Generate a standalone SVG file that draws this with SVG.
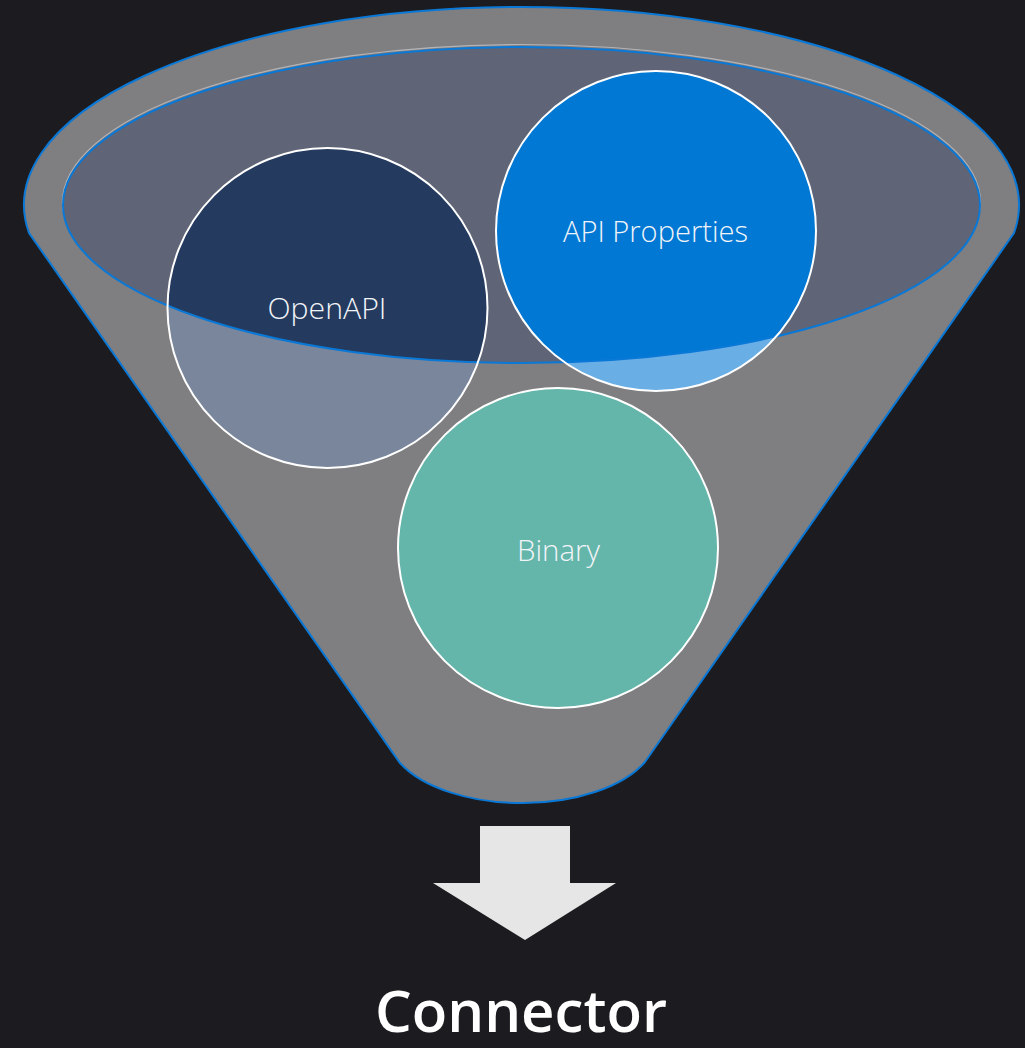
<svg xmlns="http://www.w3.org/2000/svg" width="1025" height="1048" viewBox="0 0 1025 1048">
  <style>
    .lbl { font-family: "Open Sans", "Segoe UI", "Liberation Sans", sans-serif; font-weight: 300; font-size: 30px; fill: #f2f4f8; text-anchor: middle; }
    .ring { fill: none; stroke: #ffffff; stroke-width: 2; }
    .blue { stroke: #0a78d6; stroke-width: 2; }
  </style>
  <defs>
    <clipPath id="outsideEllipse">
      <path clip-rule="evenodd" d="M0 0 H1025 V1048 H0 Z M63 205 A458.5 158 0 1 0 980 205 A458.5 158 0 1 0 63 205 Z"/>
    </clipPath>
  </defs>

  <rect x="0" y="0" width="1025" height="1048" fill="#1c1b1f"/>

  <g id="funnel">
    <path class="blue" fill="#7f7e80" d="M29 233 A497.5 198 0 1 1 1014 233 L645 762 A135 70 0 0 1 400 763 Z"/>
    <ellipse cx="521.5" cy="202.5" rx="459" ry="158" fill="none" stroke="#b4b4b8" stroke-width="1.2"/>
    <ellipse cx="521.5" cy="205" rx="458.5" ry="158" fill="#5f6577"/>
  </g>

  <g id="node-openapi">
    <circle cx="327.5" cy="308" r="160" fill="#243a5e"/>
    <circle cx="327.5" cy="308" r="160" fill="#7a869c" clip-path="url(#outsideEllipse)"/>
  </g>
  <g id="node-api-properties">
    <circle cx="656" cy="231" r="160" fill="#0078d4"/>
    <circle cx="656" cy="231" r="160" fill="#6aaee6" clip-path="url(#outsideEllipse)"/>
  </g>
  <g id="node-binary">
    <circle cx="558" cy="548" r="160" fill="#64b5aa"/>
  </g>

  <ellipse id="funnel-rim" cx="521.5" cy="205" rx="458.5" ry="158" fill="none" class="blue"/>

  <g id="node-rings">
    <circle class="ring" cx="327.5" cy="308" r="160"/>
    <circle class="ring" cx="656" cy="231" r="160"/>
    <circle class="ring" cx="558" cy="548" r="160"/>
  </g>

  <g id="node-labels">
    <text class="lbl" x="327" y="319" textLength="119" lengthAdjust="spacingAndGlyphs">OpenAPI</text>
    <text class="lbl" x="655.5" y="242" textLength="185" lengthAdjust="spacingAndGlyphs">API Properties</text>
    <text class="lbl" x="558.5" y="561" textLength="83" lengthAdjust="spacingAndGlyphs">Binary</text>
  </g>

  <g id="connectors">
    <path d="M480 826 H570 V883 H616 L525 940 L433 883 H480 Z" fill="#e6e6e6"/>
  </g>

  <g id="node-connector">
    <text x="521" y="1032" font-family="'Open Sans', 'Segoe UI', 'Liberation Sans', sans-serif" font-weight="600" font-size="58" fill="#ffffff" text-anchor="middle" textLength="292" lengthAdjust="spacingAndGlyphs">Connector</text>
  </g>
</svg>
